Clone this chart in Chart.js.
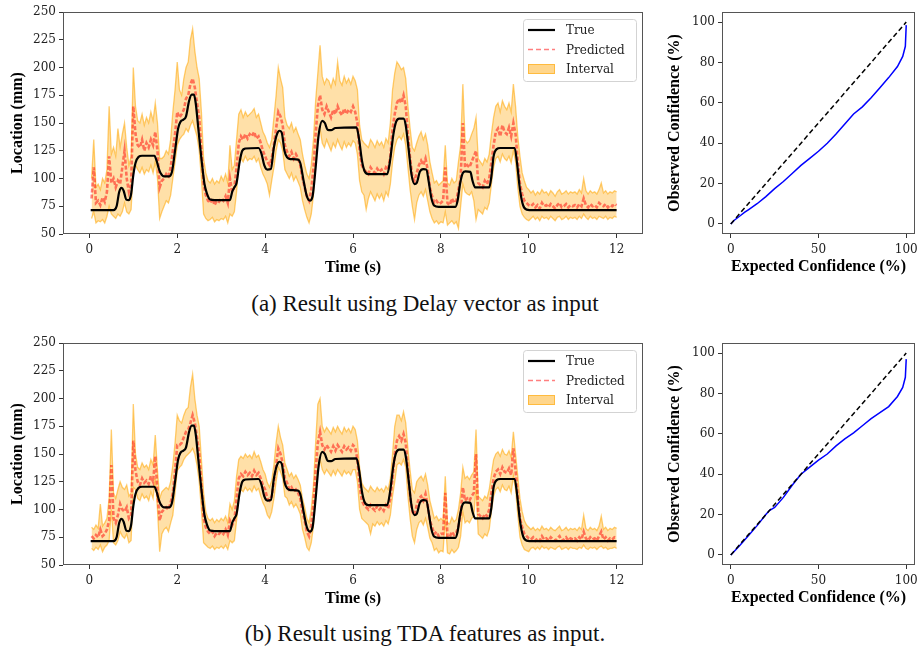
<!DOCTYPE html>
<html>
<head>
<meta charset="utf-8">
<title>Location prediction results</title>
<script src="https://cdn.jsdelivr.net/npm/chart.js@4.4.1/dist/chart.umd.min.js"></script>
<style>
  body { margin: 0; background: #fff; }
  #page { position: relative; width: 918px; height: 658px; overflow: hidden; }
  canvas { position: absolute; }
  .caption { position: absolute; left: 0; width: 850px; text-align: center; color: #111;
             font-family: 'Liberation Serif', 'Times New Roman', serif; font-size: 23px; line-height: 23px; }
</style>
</head>
<body>
<div id="page">
  <canvas id="seriesA" width="660" height="290" style="left:0;top:0;width:660px;height:290px"></canvas>
  <canvas id="calibA" width="258" height="290" style="left:660px;top:0;width:258px;height:290px"></canvas>
  <div class="caption" style="top:292px">(a) Result using Delay vector as input</div>
  <canvas id="seriesB" width="660" height="290" style="left:0;top:331px;width:660px;height:290px"></canvas>
  <canvas id="calibB" width="258" height="290" style="left:660px;top:331px;width:258px;height:290px"></canvas>
  <div class="caption" style="top:622px">(b) Result using TDA features as input.</div>
</div>
<script>
// model output is sampled every 0.05 s, from 0.05 s to 12 s (240 samples)
const sampleStart = 0.05;
const sampleStep = 0.05;

// ground truth location, read at its corners (same in both panels)
const trueTime = [0.03, 0.55, 0.62, 0.68, 0.73, 0.78, 0.84, 0.9, 0.95, 1.0, 1.05, 1.12, 1.2, 1.48, 1.53, 1.58, 1.62, 1.7, 1.82, 1.88,
  1.95, 2.02, 2.08, 2.14, 2.2, 2.27, 2.33, 2.38, 2.42, 2.48, 2.55, 2.62, 2.68, 2.75, 2.85, 3.2, 3.25, 3.3, 3.35, 3.42,
  3.48, 3.55, 3.85, 3.92, 3.98, 4.05, 4.13, 4.2, 4.27, 4.33, 4.38, 4.44, 4.5, 4.58, 4.75, 4.8, 4.88, 4.95, 5.02, 5.08,
  5.15, 5.22, 5.3, 5.36, 5.42, 5.5, 5.6, 6.08, 6.14, 6.2, 6.26, 6.35, 6.78, 6.84, 6.92, 6.98, 7.05, 7.15, 7.2, 7.27,
  7.33, 7.4, 7.45, 7.52, 7.6, 7.67, 7.72, 7.78, 7.85, 7.95, 8.33, 8.38, 8.44, 8.5, 8.56, 8.67, 8.72, 8.78, 9.1, 9.15,
  9.2, 9.27, 9.35, 9.68, 9.73, 9.8, 9.87, 9.95, 10.1, 12.0];
const trueLoc = [71.5, 71.5, 75, 88, 91.5, 89, 81, 80.5, 86, 103, 114, 119.5, 120.5, 120.5, 116, 109, 105, 102, 102, 106,
  125, 145, 151.5, 153, 156, 170, 175.5, 175.5, 168, 145, 118, 95, 86, 81, 80.5, 80.5, 88, 92, 96, 115,
  125, 127, 127.5, 122, 112, 108, 108.5, 128, 140, 143, 141, 125, 119, 117.5, 117, 114, 97, 84, 80, 84,
  110, 140, 152, 150, 144, 143.5, 145.5, 146, 135, 117, 107, 104, 104, 115, 140, 151, 154, 154, 148, 125,
  104, 95, 96, 106, 108.5, 108, 98, 83, 75.5, 74.5, 74.5, 80, 96, 105, 106.5, 106, 98, 92, 92, 102,
  120, 126.5, 127.5, 127.5, 115, 90, 76, 72, 71.5, 71.5];

// (a) delay vector input: prediction and interval bounds
const predA = [
  82, 110, 78, 80, 76, 83, 79, 88, 120, 96, 100, 92, 98, 95, 110, 125, 100, 88, 95, 165,
  140, 130, 128, 135, 125, 132, 128, 135, 130, 142, 125, 92, 98, 100, 104, 102, 110, 125, 140, 160,
  155, 158, 162, 172, 175, 185, 190, 182, 168, 155, 125, 95, 85, 80, 78, 82, 76, 80, 79, 82,
  80, 84, 78, 100, 88, 92, 110, 132, 138, 135, 140, 136, 140, 138, 142, 136, 138, 132, 125, 120,
  115, 112, 118, 130, 145, 160, 156, 148, 130, 124, 120, 124, 118, 122, 118, 112, 100, 92, 84, 80,
  90, 110, 140, 165, 175, 162, 158, 165, 160, 155, 162, 158, 165, 160, 157, 163, 158, 162, 160, 165,
  160, 150, 125, 112, 108, 106, 104, 110, 107, 105, 109, 106, 108, 104, 110, 108, 120, 145, 158, 168,
  172, 168, 175, 165, 140, 118, 102, 98, 105, 112, 116, 112, 118, 108, 92, 84, 78, 80, 77, 78,
  80, 110, 78, 76, 82, 78, 80, 90, 100, 150, 110, 112, 110, 115, 120, 125, 96, 94, 92, 98,
  95, 100, 115, 130, 142, 145, 138, 148, 142, 140, 146, 138, 150, 140, 115, 95, 86, 80, 78, 76,
  75, 77, 74, 76, 73, 78, 75, 76, 74, 77, 75, 73, 76, 78, 74, 75, 77, 74, 76, 75,
  76, 74, 77, 75, 82, 76, 74, 77, 75, 76, 74, 78, 76, 75, 77, 74, 76, 75, 77, 76];
const lowA = [
  64, 70, 60, 62, 61, 63, 60, 66, 75, 68, 66, 64, 68, 66, 70, 78, 70, 68, 72, 110,
  112, 108, 105, 110, 104, 108, 106, 112, 105, 115, 100, 64, 70, 75, 80, 78, 85, 100, 115, 130,
  135, 138, 140, 145, 142, 148, 152, 145, 138, 125, 100, 68, 64, 62, 63, 65, 61, 63, 62, 64,
  63, 66, 60, 68, 66, 70, 88, 112, 118, 115, 120, 116, 118, 117, 120, 115, 118, 110, 104, 100,
  95, 85, 98, 110, 125, 135, 132, 125, 108, 104, 100, 105, 98, 102, 97, 92, 80, 72, 65, 60,
  68, 85, 115, 135, 145, 132, 128, 135, 130, 125, 132, 128, 135, 130, 126, 133, 128, 132, 129, 134,
  132, 122, 98, 88, 85, 72, 82, 88, 84, 80, 86, 82, 86, 80, 88, 84, 95, 115, 128, 135,
  138, 135, 140, 130, 110, 90, 75, 63, 78, 85, 88, 84, 90, 80, 70, 64, 60, 62, 59, 61,
  60, 70, 58, 60, 62, 59, 61, 55, 75, 95, 88, 86, 85, 88, 80, 63, 72, 70, 68, 74,
  72, 78, 95, 110, 118, 120, 115, 122, 118, 116, 120, 114, 125, 115, 92, 75, 68, 65, 63, 62,
  64, 66, 63, 65, 62, 66, 64, 65, 63, 66, 64, 62, 65, 66, 63, 64, 66, 63, 65, 64,
  65, 63, 66, 64, 68, 65, 63, 66, 64, 65, 63, 66, 65, 64, 66, 63, 65, 64, 66, 65];
const highA = [
  100, 135, 92, 95, 90, 100, 96, 108, 165, 122, 128, 120, 145, 128, 140, 150, 128, 112, 120, 200,
  165, 152, 150, 158, 148, 155, 150, 160, 152, 168, 150, 118, 118, 120, 125, 122, 135, 160, 180, 205,
  180, 175, 190, 200, 205, 225, 235, 215, 200, 190, 160, 118, 105, 98, 96, 100, 95, 98, 96, 102,
  98, 104, 96, 130, 108, 112, 135, 158, 162, 155, 160, 156, 158, 160, 163, 155, 158, 150, 142, 138,
  132, 128, 135, 155, 175, 200, 190, 182, 155, 148, 145, 150, 142, 146, 140, 135, 122, 112, 104, 100,
  112, 135, 170, 195, 220, 192, 185, 190, 188, 182, 190, 185, 205, 188, 184, 192, 186, 190, 185, 192,
  188, 180, 148, 135, 132, 130, 128, 135, 132, 128, 134, 130, 133, 128, 136, 132, 150, 180, 195, 205,
  202, 198, 200, 190, 165, 145, 128, 125, 132, 138, 142, 135, 140, 130, 115, 105, 96, 98, 94, 96,
  98, 130, 96, 94, 100, 96, 98, 115, 130, 185, 135, 132, 134, 140, 145, 155, 118, 115, 112, 118,
  115, 122, 140, 155, 165, 168, 160, 170, 165, 162, 168, 160, 185, 165, 138, 120, 105, 98, 92, 90,
  87, 89, 85, 88, 86, 90, 87, 88, 85, 89, 87, 84, 88, 90, 86, 87, 89, 86, 88, 87,
  88, 86, 90, 87, 100, 89, 86, 89, 87, 88, 86, 90, 96, 87, 89, 86, 88, 87, 89, 88];

// (b) TDA features input
const predB = [
  76, 74, 77, 75, 82, 76, 78, 82, 90, 140, 92, 88, 95, 105, 100, 98, 102, 92, 95, 162,
  135, 125, 122, 128, 124, 126, 123, 130, 125, 148, 115, 90, 98, 100, 102, 100, 106, 115, 135, 158,
  158, 160, 165, 170, 172, 178, 185, 178, 165, 150, 122, 92, 84, 80, 78, 80, 76, 79, 78, 80,
  78, 82, 77, 90, 86, 90, 110, 128, 132, 130, 134, 131, 133, 130, 135, 131, 133, 128, 122, 118,
  110, 108, 112, 125, 140, 155, 150, 142, 128, 124, 118, 120, 116, 118, 115, 110, 98, 90, 80, 76,
  86, 105, 135, 160, 170, 158, 154, 158, 155, 152, 157, 153, 158, 155, 152, 157, 154, 156, 153, 158,
  156, 145, 122, 108, 104, 102, 100, 104, 101, 99, 103, 100, 102, 99, 104, 101, 110, 128, 150, 162,
  166, 162, 168, 160, 135, 112, 98, 95, 104, 110, 112, 108, 114, 104, 90, 84, 78, 80, 76, 78,
  78, 115, 76, 75, 80, 77, 79, 85, 96, 120, 108, 110, 108, 112, 115, 150, 96, 94, 92, 96,
  94, 100, 115, 128, 134, 136, 132, 138, 134, 133, 137, 131, 155, 135, 112, 92, 84, 78, 76, 74,
  73, 75, 72, 74, 72, 76, 73, 74, 72, 75, 73, 72, 74, 76, 72, 73, 75, 72, 74, 73,
  74, 72, 75, 73, 80, 74, 72, 75, 73, 74, 72, 76, 80, 73, 75, 72, 74, 73, 75, 74];
const lowB = [
  65, 63, 66, 64, 68, 62, 66, 68, 72, 100, 70, 68, 72, 80, 76, 74, 78, 70, 72, 120,
  118, 110, 108, 114, 110, 112, 108, 116, 110, 128, 100, 62, 78, 82, 84, 80, 88, 95, 115, 135,
  138, 140, 145, 148, 150, 152, 155, 150, 140, 125, 100, 70, 68, 66, 65, 67, 64, 66, 65, 67,
  65, 68, 64, 72, 70, 72, 90, 110, 118, 116, 120, 117, 119, 116, 121, 117, 119, 112, 106, 102,
  95, 92, 98, 110, 125, 138, 134, 128, 112, 110, 104, 107, 102, 105, 101, 96, 82, 75, 66, 63,
  70, 85, 115, 135, 145, 136, 132, 136, 133, 130, 135, 131, 136, 133, 130, 135, 132, 134, 131, 136,
  136, 125, 100, 92, 90, 88, 86, 78, 87, 85, 89, 86, 88, 85, 90, 87, 95, 112, 125, 140,
  142, 140, 145, 138, 112, 92, 76, 70, 82, 88, 90, 86, 92, 84, 74, 70, 63, 65, 61, 63,
  62, 92, 61, 60, 64, 61, 63, 66, 76, 98, 88, 90, 88, 92, 94, 120, 78, 76, 74, 78,
  76, 82, 98, 112, 118, 120, 116, 122, 118, 117, 121, 115, 130, 118, 95, 75, 68, 64, 63, 62,
  65, 66, 64, 66, 64, 67, 65, 66, 64, 66, 65, 64, 66, 67, 64, 65, 66, 64, 66, 65,
  65, 64, 66, 65, 68, 65, 64, 66, 65, 66, 64, 66, 67, 65, 66, 64, 65, 65, 66, 65];
const highB = [
  84, 82, 86, 83, 105, 85, 88, 92, 110, 172, 115, 110, 118, 125, 120, 118, 122, 112, 115, 195,
  150, 138, 136, 142, 138, 140, 136, 145, 140, 167, 135, 110, 116, 118, 120, 118, 125, 140, 160, 185,
  180, 178, 185, 190, 192, 210, 222, 200, 185, 175, 145, 115, 98, 92, 90, 92, 88, 91, 89, 92,
  90, 94, 88, 105, 100, 108, 130, 145, 148, 146, 150, 147, 149, 146, 152, 147, 149, 143, 136, 132,
  124, 120, 126, 140, 160, 175, 165, 158, 142, 136, 130, 133, 128, 131, 127, 122, 110, 102, 92, 88,
  100, 122, 160, 195, 200, 175, 170, 174, 171, 168, 174, 170, 175, 171, 168, 174, 170, 173, 169, 175,
  172, 162, 138, 124, 120, 118, 116, 121, 118, 116, 120, 117, 119, 116, 121, 118, 128, 150, 175, 185,
  185, 180, 188, 178, 155, 135, 118, 115, 125, 128, 130, 126, 132, 122, 108, 100, 92, 94, 90, 92,
  90, 130, 88, 87, 93, 89, 91, 100, 115, 138, 128, 130, 127, 131, 134, 172, 112, 110, 108, 112,
  110, 118, 132, 145, 150, 152, 148, 154, 150, 149, 153, 147, 170, 150, 130, 110, 98, 90, 86, 84,
  82, 84, 81, 83, 81, 85, 82, 83, 81, 84, 82, 81, 83, 85, 81, 82, 84, 81, 83, 82,
  83, 81, 84, 82, 95, 83, 81, 84, 82, 83, 81, 85, 94, 82, 84, 81, 83, 82, 84, 83];

// calibration curves (%)
const idealConf = [0, 100];
const expA = [0, 2, 5, 8, 10, 15, 20, 25, 30, 35, 40, 45, 50, 55, 60, 65, 70, 75, 80, 85, 90, 95, 98, 99.5, 100];
const obsA = [0, 1.8, 3.8, 5.8, 7, 10, 13.5, 17.5, 21, 25, 29, 32.5, 36, 40, 44.5, 49.5, 54.5, 58, 62.5, 67.5, 72.5, 78, 83, 88, 98.5];
const expB = [0, 5, 10, 15, 20, 22, 25, 30, 35, 40, 45, 50, 55, 60, 65, 70, 75, 80, 85, 90, 95, 98, 99.5, 100];
const obsB = [0, 4.5, 9.5, 14.5, 20, 22, 23.5, 28.5, 34.5, 40, 43.5, 47, 50, 54, 57.5, 60.5, 64, 67.5, 70.5, 73.5, 78.5, 83, 88, 97];

// tick labels
const timeTicks = [0, 2, 4, 6, 8, 10, 12];
const locTicks = [50, 75, 100, 125, 150, 175, 200, 225, 250];
const expTicks = [0, 50, 100];
const obsTicks = [0, 20, 40, 60, 80, 100];

function onGrid(values) {
  return values.map((v, i) => ({ x: sampleStart + i * sampleStep, y: v }));
}
function pairs(xs, ys) {
  return xs.map((x, i) => ({ x: x, y: ys[i] }));
}

const tickFont = { family: "'DejaVu Serif', serif", size: 12 };
const titleFont = { family: "'Liberation Serif', 'Times New Roman', serif", size: 16, weight: 'bold' };

// box round the plot area, like matplotlib spines
const frame = {
  id: 'frame',
  afterDatasetsDraw(chart) {
    const a = chart.chartArea, ctx = chart.ctx;
    ctx.save();
    ctx.strokeStyle = '#555';
    ctx.lineWidth = 1;
    ctx.strokeRect(Math.round(a.left) + 0.5, Math.round(a.top) + 0.5,
      Math.round(a.right - a.left) - 1, Math.round(a.bottom - a.top) - 1);
    ctx.restore();
  }
};

// legend in the upper right corner of the plot area
const boxLegend = {
  id: 'boxLegend',
  afterDraw(chart) {
    const ctx = chart.ctx, a = chart.chartArea;
    const ds = chart.data.datasets;
    const w = 113, h = 62;
    const x = Math.round(a.right - 7 - w), y = Math.round(a.top + 7);
    ctx.save();
    ctx.beginPath();
    ctx.roundRect(x + 0.5, y + 0.5, w, h, 3);
    ctx.fillStyle = 'rgba(255,255,255,0.85)';
    ctx.fill();
    ctx.strokeStyle = '#d3d3d3';
    ctx.lineWidth = 1;
    ctx.stroke();
    ctx.font = "12px 'DejaVu Serif'";
    ctx.textBaseline = 'middle';
    [ds[0], ds[1], ds[3]].forEach((d, i) => {
      const cy = y + 11 + i * 19.5;
      if (i < 2) {
        ctx.beginPath();
        ctx.setLineDash(i === 1 ? [5, 3] : []);
        ctx.strokeStyle = d.borderColor;
        ctx.lineWidth = i === 1 ? 1.5 : d.borderWidth;
        ctx.moveTo(x + 5, cy);
        ctx.lineTo(x + 32, cy);
        ctx.stroke();
        ctx.setLineDash([]);
      } else {
        ctx.fillStyle = 'rgba(255,165,0,0.45)';
        ctx.fillRect(x + 5, cy - 5, 27, 10);
        ctx.strokeStyle = d.borderColor;
        ctx.lineWidth = 1;
        ctx.strokeRect(x + 5.5, cy - 4.5, 26, 9);
      }
      ctx.fillStyle = '#222';
      ctx.fillText(d.label, x + 43, cy + 1);
    });
    ctx.restore();
  }
};

function axis(min, max, ticks, title, size, titlePad, horizontal) {
  return {
    type: 'linear', min: min, max: max,
    afterBuildTicks: s => { s.ticks = ticks.map(v => ({ value: v })); },
    afterFit: s => {
      if (horizontal) s.height = size; else s.width = size;
      s.paddingLeft = s.paddingRight = s.paddingTop = s.paddingBottom = 0;
    },
    grid: { drawOnChartArea: false, drawTicks: true, tickLength: 4, color: '#333' },
    border: { display: false },
    ticks: { font: tickFont, color: '#222', padding: horizontal ? 5 : 3, maxRotation: 0 },
    title: { display: true, text: title, font: titleFont, color: '#000', padding: titlePad }
  };
}

function seriesChart(id, pred, low, high) {
  return new Chart(document.getElementById(id), {
    type: 'line',
    data: {
      datasets: [
        { label: 'True', data: pairs(trueTime, trueLoc), borderColor: '#000', borderWidth: 2.2,
          cubicInterpolationMode: 'monotone', order: 0 },
        { label: 'Predicted', data: onGrid(pred), borderColor: 'rgba(255,0,0,0.5)', borderWidth: 2.6,
          borderDash: [4, 2], order: 1 },
        { label: 'Lower', data: onGrid(low), borderColor: 'rgba(255,165,0,0.55)', borderWidth: 1.3,
          fill: false, order: 2 },
        { label: 'Interval', data: onGrid(high), borderColor: 'rgba(255,165,0,0.55)', borderWidth: 1.3,
          backgroundColor: 'rgba(255,165,0,0.34)', fill: '-1', order: 2 }
      ]
    },
    options: {
      responsive: false, animation: false, devicePixelRatio: 1,
      layout: { padding: { top: 12, right: 17, left: 0, bottom: 0 } },
      elements: { point: { radius: 0 }, line: { tension: 0 } },
      plugins: { legend: { display: false }, tooltip: { enabled: false } },
      scales: {
        x: axis(-0.6, 12.6, timeTicks, 'Time (s)', 56, { bottom: 13 }, true),
        y: axis(50, 250, locTicks, 'Location (mm)', 63, { top: 8 }, false)
      }
    },
    plugins: [frame, boxLegend]
  });
}

function calibChart(id, exp, obs) {
  return new Chart(document.getElementById(id), {
    type: 'line',
    data: {
      datasets: [
        { label: 'Ideal', data: pairs(idealConf, idealConf), borderColor: '#000', borderWidth: 1.5,
          borderDash: [5, 3], order: 0 },
        { label: 'Calibration', data: pairs(exp, obs), borderColor: '#0000ff', borderWidth: 1.5, order: 1 }
      ]
    },
    options: {
      responsive: false, animation: false, devicePixelRatio: 1,
      layout: { padding: { top: 12, right: 3, left: 0, bottom: 0 } },
      elements: { point: { radius: 0 }, line: { tension: 0 } },
      plugins: { legend: { display: false }, tooltip: { enabled: false } },
      scales: {
        x: axis(-5, 105, expTicks, 'Expected Confidence (%)', 56, { bottom: 14 }, true),
        y: axis(-5, 105, obsTicks, 'Observed Confidence (%)', 62, { top: 5 }, false)
      }
    },
    plugins: [frame]
  });
}

seriesChart('seriesA', predA, lowA, highA);
calibChart('calibA', expA, obsA);
seriesChart('seriesB', predB, lowB, highB);
calibChart('calibB', expB, obsB);
</script>
</body>
</html>
